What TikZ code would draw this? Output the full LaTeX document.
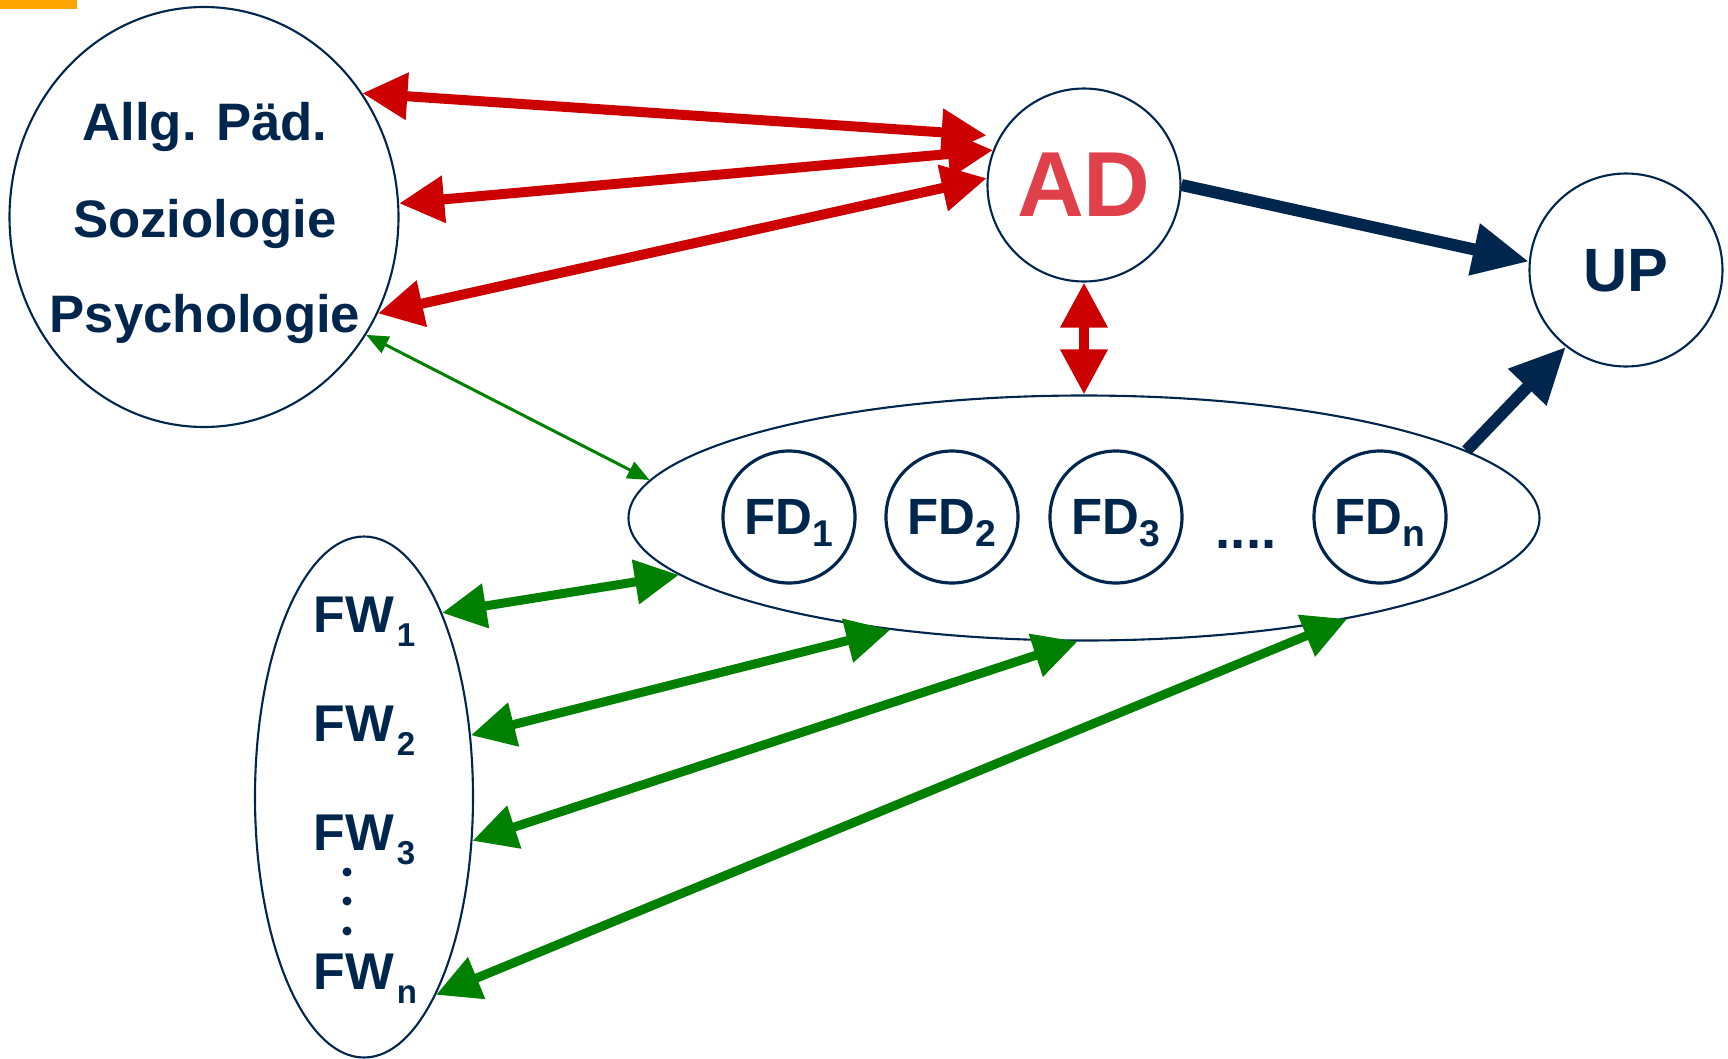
\documentclass[tikz,border=0pt]{standalone}
\usepackage{fontspec}
\setmainfont{Liberation Sans}
\usetikzlibrary{arrows.meta,shapes.geometric}

\definecolor{navy}{RGB}{0,38,77}
\definecolor{darkred}{RGB}{204,0,0}
\definecolor{adred}{RGB}{224,64,74}
\definecolor{darkgreen}{RGB}{0,128,0}
\definecolor{orangebar}{RGB}{255,165,0}

\newcommand{\fdsub}[1]{\raisebox{-3.4pt}{\fontsize{10.6}{12}\selectfont #1}}
\newcommand{\fwsub}[1]{\kern0.8pt\raisebox{-4pt}{\fontsize{9.4}{10}\selectfont #1}}

\begin{document}
\begin{tikzpicture}[
        oval/.style={ellipse, draw=navy, line width=0.6pt, inner sep=0pt},
        bigcircle/.style={circle, draw=navy, line width=0.6pt, minimum size=1.93cm, inner sep=0pt, text depth=0pt},
        fdcircle/.style={circle, draw=navy, line width=0.9pt, minimum size=1.32cm, inner sep=0pt, text=navy, text depth=0pt, font=\fontsize{14.5}{17}\selectfont\bfseries},
        lbl/.style={text=navy, inner sep=0pt, font=\fontsize{15}{18}\selectfont\bfseries},
        fwlbl/.style={text=navy, inner sep=0pt, anchor=base west, font=\fontsize{14.7}{17}\selectfont\bfseries},
        redarrow/.style={draw=darkred, line width=0.1cm, {Triangle[length=4.5mm,width=4.5mm]}-{Triangle[length=4.5mm,width=4.5mm]}},
        greenarrow/.style={draw=darkgreen, line width=0.09cm, {Triangle[length=4.4mm,width=4.3mm]}-{Triangle[length=4.4mm,width=4.3mm]}},
        thinarrow/.style={draw=darkgreen, line width=0.03cm, {Triangle[length=2.2mm,width=1.8mm]}-{Triangle[length=2.2mm,width=1.8mm]}},
        navyarrow/.style={draw=navy, line width=0.12cm, -{Triangle[length=5.6mm,width=5mm]}}
    ]
        \useasboundingbox (0,0) rectangle (17.28,10.58);
        \fill[orangebar] (0,10.49) rectangle (0.77,10.58);

        % disciplines
        \node[oval, minimum width=3.89cm, minimum height=4.20cm] (disz) at (2.04,8.41) {};
        \node[lbl, anchor=base] (allg) at (2.05,9.18) {Allg. Päd.};
        \node[lbl, anchor=base] (sozio) at (2.05,8.21) {Soziologie};
        \node[lbl, anchor=base] (psych) at (2.05,7.26) {Psychologie};

        % AD and UP
        \node[bigcircle, text=adred, font=\fontsize{26.3}{30}\selectfont\bfseries] (ad) at (10.84,8.73) {AD};
        \node[bigcircle, text=navy, font=\fontsize{17.4}{20}\selectfont\bfseries] (up) at (16.26,7.88) {UP};

        % Fachdidaktiken
        \node[oval, minimum width=9.11cm, minimum height=2.45cm] (fds) at (10.84,5.40) {};
        \node[fdcircle] (fd1) at (7.89,5.41) {FD\fdsub{1}};
        \node[fdcircle] (fd2) at (9.52,5.41) {FD\fdsub{2}};
        \node[fdcircle] (fd3) at (11.16,5.41) {FD\fdsub{3}};
        \node[fdcircle] (fdn) at (13.80,5.41) {FD\fdsub{n}};
        \node[lbl, anchor=base, font=\fontsize{15.5}{17}\selectfont\bfseries] (fddots) at (12.46,5.10) {....};

        % Fachwissenschaften
        \node[oval, minimum width=2.18cm, minimum height=5.21cm] (fws) at (3.64,2.61) {};
        \node[fwlbl] (fw1) at (3.13,4.26) {FW\fwsub{1}};
        \node[fwlbl] (fw2) at (3.13,3.17) {FW\fwsub{2}};
        \node[fwlbl] (fw3) at (3.13,2.08) {FW\fwsub{3}};
        \node[fwlbl] (fwn) at (3.13,0.69) {FW\fwsub{n}};
        \foreach \y in {1.86,1.57,1.27}
            \fill[navy] (3.47,\y) circle (0.045);

        % red connections
        \draw[redarrow, shorten >=0.13cm] (disz.38) -- (ad.150);
        \draw[redarrow] (disz.4) -- (ad.159);
        \draw[redarrow] (disz.-29) -- (ad.176);
        \draw[redarrow] (ad.south) -- (fds.north);

        % to UP
        \draw[navyarrow] (ad.east) -- (up.175);
        \draw[navyarrow] (fds.10) -- (up.232);

        % green connections
        \draw[thinarrow] (disz.-36.6) -- (fds.175.5);
        \draw[greenarrow] (fws.67) -- (fds.188);
        \draw[greenarrow] (fws.30) -- (fds.210.7);
        \draw[greenarrow] (fws.-22) -- (fds.267.6);
        \draw[greenarrow] (fws.-70) -- (fds.339.3);
    \end{tikzpicture}
\end{document}
